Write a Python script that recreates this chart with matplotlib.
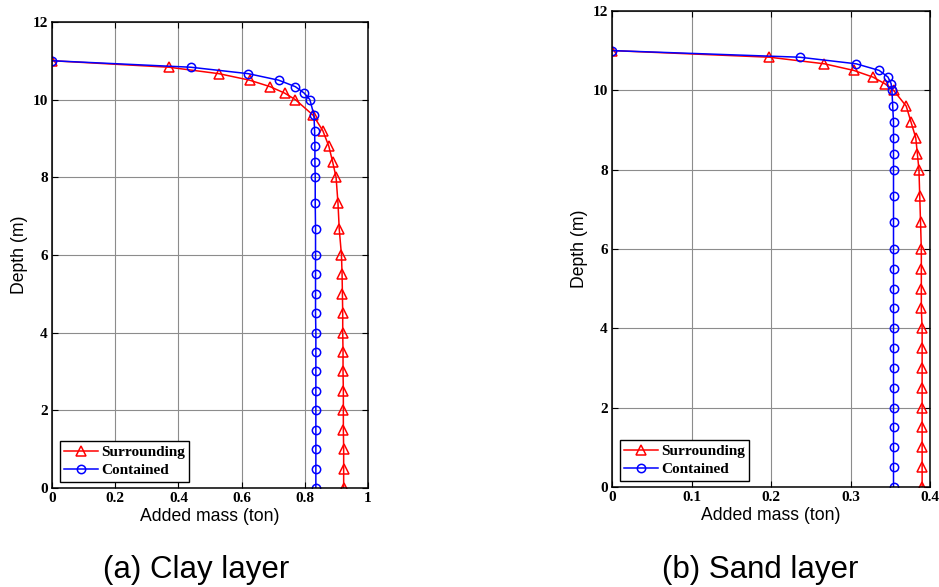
import numpy as np
import matplotlib.pyplot as plt

# depth of the sampled points (m)
depth = [11.0, 10.833, 10.667, 10.5, 10.333, 10.167, 10.0, 9.6, 9.2, 8.8, 8.4, 8.0,
         7.333, 6.667, 6.0, 5.5, 5.0, 4.5, 4.0, 3.5, 3.0, 2.5, 2.0, 1.5, 1.0, 0.5, 0.0]

# clay layer added mass (ton)
clay_surr = [0.0, 0.37, 0.528, 0.625, 0.69, 0.736, 0.77, 0.826, 0.857, 0.876, 0.888, 0.899,
             0.905, 0.909, 0.916, 0.918, 0.919, 0.920, 0.920, 0.921, 0.921, 0.922, 0.922,
             0.922, 0.923, 0.923, 0.923]
clay_cont = [0.0, 0.439, 0.621, 0.717, 0.770, 0.798, 0.816, 0.829, 0.831, 0.832, 0.832, 0.833,
             0.833, 0.834, 0.834, 0.834, 0.834, 0.834, 0.835, 0.835, 0.835, 0.835, 0.835,
             0.835, 0.835, 0.835, 0.835]

# sand layer added mass (ton)
sand_surr = [0.0, 0.198, 0.267, 0.304, 0.328, 0.343, 0.354, 0.370, 0.376, 0.382, 0.384, 0.386,
             0.387, 0.388, 0.389, 0.389, 0.389, 0.389, 0.390, 0.390, 0.390, 0.390, 0.390,
             0.390, 0.390, 0.390, 0.390]
sand_cont = [0.0, 0.236, 0.307, 0.336, 0.347, 0.351, 0.352, 0.353, 0.354, 0.354, 0.354, 0.354,
             0.354, 0.354, 0.354, 0.354, 0.354, 0.354, 0.354, 0.354, 0.354, 0.354, 0.354,
             0.354, 0.354, 0.354, 0.354]

panels = [
    ("(a) Clay layer", clay_surr, clay_cont, 1.0, [0, 0.2, 0.4, 0.6, 0.8, 1],
     ["0", "0.2", "0.4", "0.6", "0.8", "1"]),
    ("(b) Sand layer", sand_surr, sand_cont, 0.4, [0, 0.1, 0.2, 0.3, 0.4],
     ["0", "0.1", "0.2", "0.3", "0.4"]),
]
rects = [[0.0554, 0.1687, 0.3365, 0.794], [0.6518, 0.1704, 0.3387, 0.811]]
caption_x = [196 / 939, 760 / 939]

fig = plt.figure(figsize=(9.39, 5.87), dpi=100)
tickfont = dict(family="Liberation Serif", weight="bold", size=11)

for rect, cx, (caption, surr, cont, xmax, xt, xtl) in zip(rects, caption_x, panels):
    ax = fig.add_axes(rect)
    ax.plot(surr, depth, color="red", marker="^", ms=7, mfc="none", mew=1.1, lw=1.1,
            label="Surrounding")
    ax.plot(cont, depth, color="blue", marker="o", ms=6, mfc="none", mew=1.1, lw=1.1,
            label="Contained")
    ax.set_xlim(0, xmax)
    ax.set_ylim(0, 12)
    ax.set_xticks(xt)
    ax.set_xticklabels(xtl, fontdict=tickfont)
    ax.set_yticks([0, 2, 4, 6, 8, 10, 12])
    ax.set_yticklabels(["0", "2", "4", "6", "8", "10", "12"], fontdict=tickfont)
    ax.grid(True, color="#8c8c8c", lw=0.8)
    ax.tick_params(direction="in", top=True, right=True, length=4, width=0.8, pad=3)
    for s in ax.spines.values():
        s.set_linewidth(1.1)
    ax.set_xlabel("Added mass (ton)", family="Liberation Sans", size=12.7, labelpad=2)
    ax.set_ylabel("Depth (m)", family="Liberation Sans", size=12.7, labelpad=3)
    leg = ax.legend(loc="lower left", prop=dict(family="Liberation Serif", weight="bold", size=11),
                    fancybox=False, edgecolor="black", framealpha=1, borderpad=0.3,
                    handlelength=2.2, handletextpad=0.2, labelspacing=0.3,
                    bbox_to_anchor=(0.0, -0.003))
    leg.get_frame().set_linewidth(1.0)
    fig.text(cx, 17 / 587, caption, ha="center", va="center",
             family="Liberation Sans", size=22.5)

fig.savefig("out.png", dpi=100)
